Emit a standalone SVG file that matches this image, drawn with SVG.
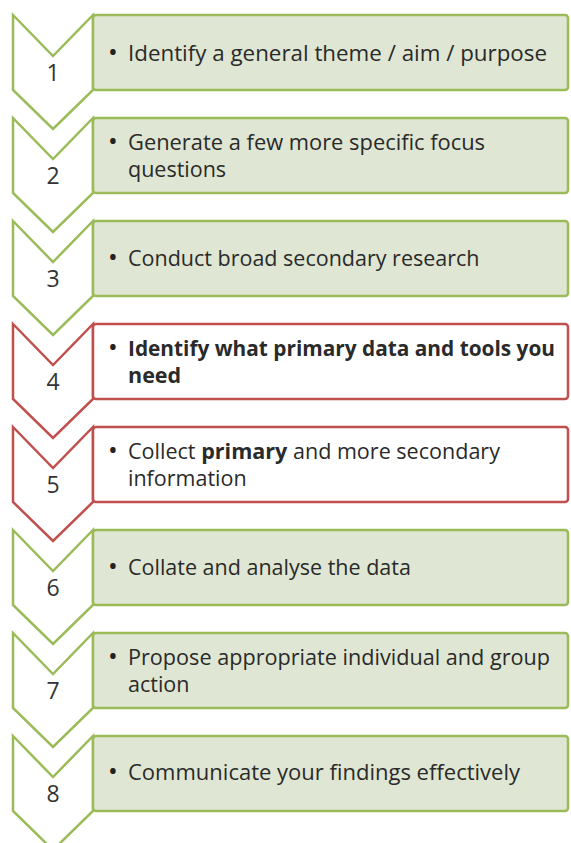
<svg xmlns="http://www.w3.org/2000/svg" width="571" height="843" viewBox="0 0 571 843">
<style>
.bg{fill:#ffffff}
.chev{fill:#ffffff;stroke-width:2.5;stroke-linejoin:miter}
.g .chev,.g .box{stroke:#9bbb59}
.r .chev,.r .box{stroke:#c0504d}
.g .box{fill:#dfe6d3}
.r .box{fill:#ffffff}
.box{stroke-width:2.5}
.num{font-family:"Open Sans","Liberation Sans",sans-serif;font-size:23px;fill:#333;text-anchor:middle}
.t{font-family:"Open Sans","Liberation Sans",sans-serif;font-size:21.5px;fill:#2a2a2a}
.bu{font-family:"Open Sans","Liberation Sans",sans-serif;font-size:26px;fill:#222;text-anchor:middle}
.b{font-weight:bold}
</style>
<rect class="bg" x="0" y="0" width="571" height="843"/>
<g id="step1" class="g">
<path class="chev" d="M13,15 L53,56 L93,15 L93,90 L53,129 L13,90 Z"/>
<rect class="box" x="93" y="15" width="475" height="75" rx="3"/>
<text class="num" x="53" y="81">1</text>
<text class="bu" x="113" y="61">•</text><text class="t" x="128" y="61" textLength="419" lengthAdjust="spacingAndGlyphs">Identify a general theme / aim / purpose</text>
</g>
<g id="step2" class="g">
<path class="chev" d="M13,118 L53,159 L93,118 L93,193 L53,232 L13,193 Z"/>
<rect class="box" x="93" y="118" width="475" height="75" rx="3"/>
<text class="num" x="53" y="184">2</text>
<text class="bu" x="113" y="150">•</text><text class="t" x="128" y="150" textLength="357" lengthAdjust="spacingAndGlyphs">Generate a few more specific focus</text>
<text class="t" x="128" y="177">questions</text>
</g>
<g id="step3" class="g">
<path class="chev" d="M13,221 L53,262 L93,221 L93,296 L53,335 L13,296 Z"/>
<rect class="box" x="93" y="221" width="475" height="75" rx="3"/>
<text class="num" x="53" y="287">3</text>
<text class="bu" x="113" y="266">•</text><text class="t" x="128" y="266">Conduct broad secondary research</text>
</g>
<g id="step4" class="r">
<path class="chev" d="M13,324 L53,365 L93,324 L93,399 L53,438 L13,399 Z"/>
<rect class="box" x="93" y="324" width="475" height="75" rx="3"/>
<text class="num" x="53" y="390">4</text>
<text class="bu" x="113" y="356">•</text><text class="t b" x="128" y="356" textLength="427" lengthAdjust="spacingAndGlyphs">Identify what primary data and tools you</text>
<text class="t b" x="128" y="383">need</text>
</g>
<g id="step5" class="r">
<path class="chev" d="M13,427 L53,468 L93,427 L93,502 L53,541 L13,502 Z"/>
<rect class="box" x="93" y="427" width="475" height="75" rx="3"/>
<text class="num" x="53" y="493">5</text>
<text class="bu" x="113" y="459">•</text><text class="t" x="128" y="459" textLength="372" lengthAdjust="spacingAndGlyphs">Collect <tspan class="b">primary</tspan> and more secondary</text>
<text class="t" x="128" y="486">information</text>
</g>
<g id="step6" class="g">
<path class="chev" d="M13,530 L53,571 L93,530 L93,605 L53,644 L13,605 Z"/>
<rect class="box" x="93" y="530" width="475" height="75" rx="3"/>
<text class="num" x="53" y="596">6</text>
<text class="bu" x="113" y="575">•</text><text class="t" x="128" y="575">Collate and analyse the data</text>
</g>
<g id="step7" class="g">
<path class="chev" d="M13,633 L53,674 L93,633 L93,708 L53,747 L13,708 Z"/>
<rect class="box" x="93" y="633" width="475" height="75" rx="3"/>
<text class="num" x="53" y="699">7</text>
<text class="bu" x="113" y="665">•</text><text class="t" x="128" y="665" textLength="422" lengthAdjust="spacingAndGlyphs">Propose appropriate individual and group</text>
<text class="t" x="128" y="692">action</text>
</g>
<g id="step8" class="g">
<path class="chev" d="M13,736 L53,777 L93,736 L93,811 L53,850 L13,811 Z"/>
<rect class="box" x="93" y="736" width="475" height="75" rx="3"/>
<text class="num" x="53" y="802">8</text>
<text class="bu" x="113" y="780">•</text><text class="t" x="128" y="780" textLength="392" lengthAdjust="spacingAndGlyphs">Communicate your findings effectively</text>
</g>
<g id="connectors"/>
</svg>
